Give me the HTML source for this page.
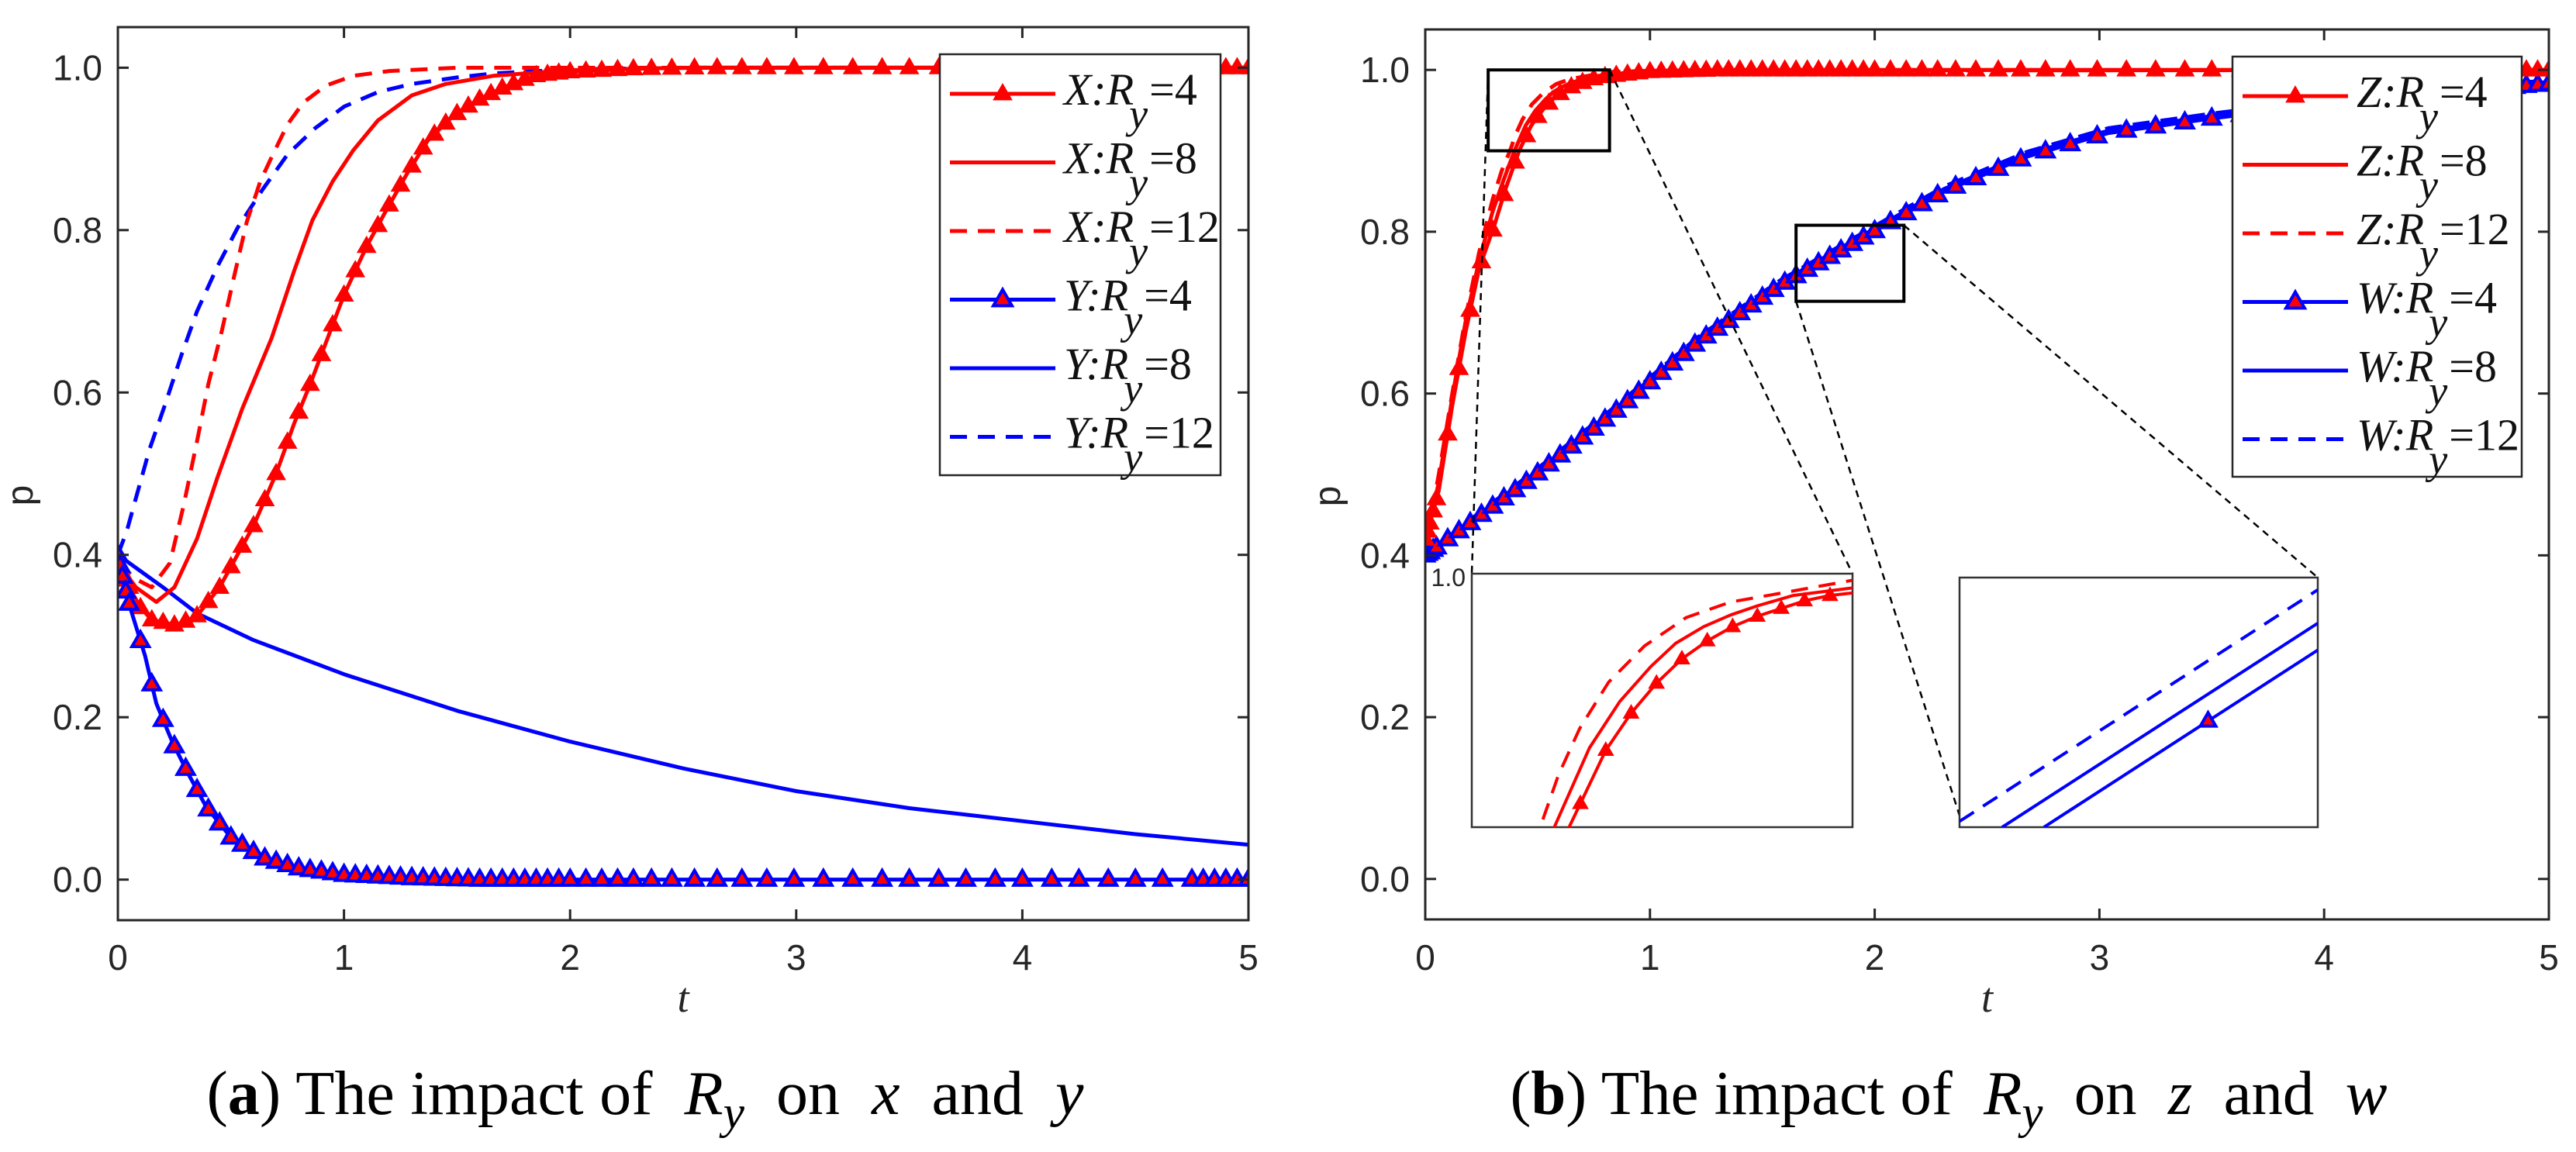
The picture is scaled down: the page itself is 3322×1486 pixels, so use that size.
<!DOCTYPE html>
<html><head><meta charset="utf-8"><style>
html,body{margin:0;padding:0;background:#fff;width:3322px;height:1486px;overflow:hidden;}
svg{display:block;}
.pre{white-space:pre;}
</style></head><body>
<svg id="fig" width="3322" height="1486" viewBox="0 0 3322 1486" xmlns="http://www.w3.org/2000/svg">
<defs>
<clipPath id="clipL"><rect x="152" y="35" width="1458" height="1152"/></clipPath>
<clipPath id="clipR"><rect x="1838" y="38" width="1449" height="1148"/></clipPath>
<clipPath id="clipI1"><rect x="1898" y="740" width="491" height="327"/></clipPath>
<clipPath id="clipI2"><rect x="2527" y="745" width="462" height="322"/></clipPath>
</defs>
<rect x="0" y="0" width="3322" height="1486" fill="#fff"/>
<g id="root"></g>
</svg>
<script>
// ---------- Panel (a) data ----------
const tX4 = [0,.05,.1,.15,.26,.35,.45,.6,.7,.78,.85,1.0,1.1,1.19,1.28,1.37,1.48,1.59,1.7,1.84,2.0,2.3,2.6,5];
const yX4 = [.39,.36,.335,.32,.313,.325,.36,.436,.5,.562,.61,.72,.78,.826,.87,.91,.94,.96,.975,.99,.995,.999,1,1];
const tX8 = [0,.08,.17,.25,.35,.44,.55,.68,.78,.86,.95,1.04,1.15,1.3,1.45,1.66,2.0,2.5,5];
const yX8 = [.39,.36,.342,.36,.42,.495,.58,.667,.75,.812,.86,.898,.935,.966,.98,.99,.997,1,1];
const tX12 = [0,.08,.15,.23,.29,.35,.4,.46,.52,.57,.63,.68,.75,.82,.92,1.04,1.2,1.5,5];
const yX12 = [.39,.37,.36,.39,.46,.54,.61,.676,.75,.81,.86,.89,.93,.957,.978,.99,.996,1,1];
const tY4 = [0,.03,.06,.12,.17,.24,.31,.39,.5,.64,.8,1.0,1.3,1.6,5];
const yY4 = [.4,.36,.33,.276,.217,.17,.131,.09,.052,.027,.014,.006,.002,0,0];
const tY8 = [0,.1,.2,.35,.6,1,1.5,2,2.5,3,3.5,4,4.5,5];
const yY8 = [.4,.38,.36,.328,.295,.253,.208,.17,.137,.109,.088,.072,.056,.043];
const tY12 = [0,.04,.08,.14,.21,.28,.35,.44,.53,.64,.75,.87,1.0,1.15,1.3,1.5,1.66,2.0,2.5,5];
const yY12 = [.4,.43,.47,.53,.586,.645,.7,.755,.803,.85,.893,.925,.952,.97,.98,.988,.993,.998,1,1];
const markerT = [0,.01,.02,.035,.05,.1,.15,.2,.25,.3,.35,.4,.45,.5,.55,.6,.65,.7,.75,.8,.85,.9,.95,1.0,1.05,1.1,1.15,1.2,1.25,1.3,1.35,1.4,1.45,1.5,1.55,1.6,1.65,1.7,1.75,1.8,1.85,1.9,1.95,2.0,2.07,2.14,2.21,2.28,2.36,2.45,2.55,2.65,2.76,2.87,2.99,3.12,3.25,3.38,3.5,3.63,3.75,3.88,4.0,4.13,4.25,4.38,4.5,4.62,4.75,4.8,4.85,4.9,4.95,5];
// ---------- Panel (b) data ----------
const tZ4 = [0,.02,.04,.06,.12,.18,.24,.31,.36,.418,.47,.506,.542,.578,.614,.65,.685,.719,.752,.788,.82,1.0,1.3,5];
const yZ4 = [.42,.44,.46,.48,.585,.677,.755,.81,.855,.9,.9303,.945,.9568,.9664,.9735,.9791,.9832,.9863,.9893,.9914,.9924,.998,1,1];
const tZ8 = [0,.02,.04,.06,.12,.18,.24,.3,.35,.397,.447,.49,.534,.569,.609,.647,.685,.736,.82,1.0,1.3,5];
const yZ8 = [.42,.445,.465,.49,.595,.69,.765,.825,.865,.9,.9313,.9496,.9634,.9725,.9791,.9837,.9873,.9914,.9944,.999,1,1];
const tZ12 = [0,.02,.04,.06,.12,.18,.24,.3,.34,.377,.403,.433,.474,.525,.584,.647,.71,.82,1.0,5];
const yZ12 = [.42,.45,.47,.5,.6,.695,.775,.84,.875,.9,.9206,.9389,.9572,.9715,.9827,.9888,.9919,.9974,.999,1];
const tW = [0,.18,.48,.85,1.21,1.58,1.95,2.31,2.68,3.04,3.5,4.0,4.5,5];
const yW4 = [.4,.436,.497,.579,.663,.734,.793,.85,.893,.922,.94,.957,.97,.983];
const yW8 = [.4,.438,.5,.582,.666,.737,.796,.853,.896,.925,.943,.96,.973,.985];
const yW12 = [.4,.44,.503,.585,.669,.74,.799,.856,.899,.928,.946,.963,.976,.987];
const zoom1 = [.28,.82,.90,1.0];
const zoom2 = [1.65,2.13,.714,.808];
const inset1MarkerT = [.434,.47,.506,.542,.578,.614,.65,.685,.719,.752,.788];
const insetW4t = [1.763,2.13], insetW4y = [.714,.7807];
const insetW8t = [1.707,2.13], insetW8y = [.714,.7908];
const insetW12t = [1.65,2.13], insetW12y = [.7162,.8034];
const inset2MarkerT = [1.983];
const xTicks = [0,1,2,3,4,5];
const yTicks = [0,.2,.4,.6,.8,1.0];
const yTickLabels = ['0.0','0.2','0.4','0.6','0.8','1.0'];

const SANS="'Liberation Sans', sans-serif";
const SERIF="'Liberation Serif', serif";
const NS='http://www.w3.org/2000/svg';
const root=document.getElementById('root');
function el(tag,attrs,parent){const e=document.createElementNS(NS,tag);for(const k in attrs)e.setAttribute(k,attrs[k]);(parent||root).appendChild(e);return e;}
function mkAxis(x0,x1,yT,yB,tmin,tmax,vmin,vmax){
  return {x:t=>x0+(t-tmin)/(tmax-tmin)*(x1-x0), y:v=>yB-(v-vmin)/(vmax-vmin)*(yB-yT), x0,x1,yT,yB};
}
function interp(ts,ys,t){
  if(t<=ts[0])return ys[0];
  for(let i=1;i<ts.length;i++){if(t<=ts[i]){const f=(t-ts[i-1])/(ts[i]-ts[i-1]);return ys[i-1]+f*(ys[i]-ys[i-1]);}}
  return ys[ys.length-1];
}
function line(ax,ts,ys,color,dash,g,name,w){
  let d='';ts.forEach((t,i)=>{d+=(i?'L':'M')+ax.x(t).toFixed(1)+','+ax.y(ys[i]).toFixed(1);});
  const p=el('path',{d,fill:'none',stroke:color,'stroke-width':w||5,'stroke-linejoin':'round'},g);
  if(dash)p.setAttribute('stroke-dasharray','22 14');
  
  
  return p;
}
function tri(cx,cy,s,fill,stroke,g,name){
  const h=s*0.87;
  const p=el('polygon',{points:`${cx},${cy-h*0.62} ${cx-s/2},${cy+h*0.38} ${cx+s/2},${cy+h*0.38}`,fill,stroke:stroke||fill,'stroke-width':stroke?4:1,'stroke-linejoin':'miter'},g);
  
  
}
function markers(ax,ts,ys,mt,fill,stroke,g,name,s){
  mt.forEach(t=>tri(ax.x(t),ax.y(interp(ts,ys,t)),s||24,fill,stroke,g,name));
}
function frame(ax,prefix){
  const g=el('g',{});
  
  
  xTicks.forEach(t=>{
    const x=ax.x(t);
    el('line',{x1:x,y1:ax.yB,x2:x,y2:ax.yB-14,stroke:'#262626','stroke-width':3},g);
    el('line',{x1:x,y1:ax.yT,x2:x,y2:ax.yT+14,stroke:'#262626','stroke-width':3},g);
    const tx=el('text',{x:x,y:1251,'text-anchor':'middle','font-family':SANS,'font-size':46,fill:'#262626'},g);
    tx.textContent=String(t);
    
    
  });
  yTicks.forEach((v,i)=>{
    const y=ax.y(v);
    el('line',{x1:ax.x0,y1:y,x2:ax.x0+14,y2:y,stroke:'#262626','stroke-width':3},g);
    el('line',{x1:ax.x1,y1:y,x2:ax.x1-14,y2:y,stroke:'#262626','stroke-width':3},g);
    const tx=el('text',{x:ax.x0-20,y:y+16,'text-anchor':'end','font-family':SANS,'font-size':46,fill:'#262626'},g);
    tx.textContent=yTickLabels[i];
    
    
  });
  const r=el('rect',{x:ax.x0,y:ax.yT,width:ax.x1-ax.x0,height:ax.yB-ax.yT,fill:'none',stroke:'#262626','stroke-width':3},g);
  
  
  const xl=el('text',{x:(ax.x0+ax.x1)/2,y:1305,'text-anchor':'middle','font-family':SERIF,'font-style':'italic','font-size':54,fill:'#262626'},g);
  xl.textContent='t';
  
  
  const yx=ax.x0-110, yy=(ax.yT+ax.yB)/2+28;
  const yl=el('text',{x:yx,y:yy,transform:`rotate(-90 ${yx} ${yy})`,'text-anchor':'middle','font-family':SANS,'font-size':48,fill:'#262626'},g);
  yl.textContent='p';
  
  
}
function legend(x0,y0,w,h,entries,prefix){
  const g=el('g',{});
  
  
  el('rect',{x:x0,y:y0,width:w,height:h,fill:'#fff',stroke:'#262626','stroke-width':2.5},g);
  entries.forEach((e,i)=>{
    const ly=y0+51+i*88.5;
    const eg=el('g',{},g);
    
    
    const l=el('line',{x1:x0+13,y1:ly,x2:x0+149,y2:ly,stroke:e.c,'stroke-width':5},eg);
    if(e.dash)l.setAttribute('stroke-dasharray','22 14');
    if(e.m)tri(x0+81,ly,24,e.mf,e.ms,eg,'legend-marker');
    const tx=el('text',{x:x0+160,y:ly+14,'font-family':SERIF,'font-size':58,fill:'#111'},eg);
    const a=el('tspan',{'font-style':'italic'},tx);a.textContent=e.s+':R';
    const b=el('tspan',{'font-style':'italic',dy:30,dx:-6,'font-size':54},tx);b.textContent='y';
    const c=el('tspan',{dy:-30,dx:2},tx);c.textContent='='+e.v;
  });
}
function caption(cx,letter,a,b){
  const tx=el('text',{x:cx,y:1437,'text-anchor':'middle','font-family':SERIF,'font-size':80,fill:'#000',textLength:1131,lengthAdjust:'spacingAndGlyphs',class:'pre'});
  
  
  const p1=el('tspan',{},tx);p1.textContent='(';
  const p2=el('tspan',{'font-weight':'bold'},tx);p2.textContent=letter;
  const p3=el('tspan',{},tx);p3.textContent=') The impact of  ';
  const p4=el('tspan',{'font-style':'italic'},tx);p4.textContent='R';
  const p5=el('tspan',{'font-style':'italic',dy:18,'font-size':60},tx);p5.textContent='y';
  const p6=el('tspan',{dy:-18},tx);p6.textContent='  on  ';
  const p7=el('tspan',{'font-style':'italic'},tx);p7.textContent=a;
  const p8=el('tspan',{},tx);p8.textContent='  and  ';
  const p9=el('tspan',{'font-style':'italic'},tx);p9.textContent=b;
}

// ---------- Panel (a) ----------
const axL=mkAxis(152,1610,35,1187,0,5,-0.05,1.05);
const gL=el('g',{'clip-path':'url(#clipL)'});


line(axL,tY8,yY8,'#0000ff',false,gL,'series-y-ry8');
line(axL,tY12,yY12,'#0000ff',true,gL,'series-y-ry12');
line(axL,tX12,yX12,'#ff0000',true,gL,'series-x-ry12');
line(axL,tX8,yX8,'#ff0000',false,gL,'series-x-ry8');
line(axL,tX4,yX4,'#ff0000',false,gL,'series-x-ry4');
markers(axL,tX4,yX4,markerT,'#ff0000',null,gL,'marker-x-ry4');
line(axL,tY4,yY4,'#0000ff',false,gL,'series-y-ry4');
markers(axL,tY4,yY4,markerT,'#ff0000','#0000ff',gL,'marker-y-ry4',22);
frame(axL,'panel-a');
legend(1212,70,362,543,[
 {s:'X',v:'4',c:'#ff0000',m:1,mf:'#ff0000'},
 {s:'X',v:'8',c:'#ff0000'},
 {s:'X',v:'12',c:'#ff0000',dash:1},
 {s:'Y',v:'4',c:'#0000ff',m:1,mf:'#ff0000',ms:'#0000ff'},
 {s:'Y',v:'8',c:'#0000ff'},
 {s:'Y',v:'12',c:'#0000ff',dash:1}],'panel-a');
caption(832,'a','x','y');

// ---------- Panel (b) ----------
const axR=mkAxis(1838,3287,38,1186,0,5,-0.05,1.05);
const gR=el('g',{'clip-path':'url(#clipR)'});


line(axR,tW,yW12,'#0000ff',true,gR,'series-w-ry12');
line(axR,tW,yW8,'#0000ff',false,gR,'series-w-ry8');
line(axR,tW,yW4,'#0000ff',false,gR,'series-w-ry4');
markers(axR,tW,yW4,markerT,'#ff0000','#0000ff',gR,'marker-w-ry4',22);
line(axR,tZ12,yZ12,'#ff0000',true,gR,'series-z-ry12');
line(axR,tZ8,yZ8,'#ff0000',false,gR,'series-z-ry8');
line(axR,tZ4,yZ4,'#ff0000',false,gR,'series-z-ry4');
markers(axR,tZ4,yZ4,markerT,'#ff0000',null,gR,'marker-z-ry4');
frame(axR,'panel-b');

const in1={x0:1898,x1:2389,yT:740,yB:1067};
const in2={x0:2527,x1:2989,yT:745,yB:1067};
function zoomRect(z,name){
  const x0=axR.x(z[0]),x1=axR.x(z[1]),yT=axR.y(z[3]),yB=axR.y(z[2]);
  const r=el('rect',{x:x0,y:yT,width:x1-x0,height:yB-yT,fill:'none',stroke:'#000','stroke-width':4});
  
  
  return {x0,x1,yT,yB};
}
const zr1=zoomRect(zoom1,'zoom-box-1');
const zr2=zoomRect(zoom2,'zoom-box-2');
function conn(x1,y1,x2,y2){
  const l=el('line',{x1,y1,x2,y2,stroke:'#000','stroke-width':2.5,'stroke-dasharray':'9 7'});
  
  
}
conn(zr1.x0,zr1.yT,in1.x0,in1.yT);
conn(zr1.x1,zr1.yT,in1.x1,in1.yT);
conn(zr2.x0,zr2.yB,in2.x0,in2.yB-15);
conn(zr2.x1,zr2.yT,in2.x1,in2.yT);

const ax1=mkAxis(in1.x0,in1.x1,in1.yT,in1.yB,zoom1[0],zoom1[1],zoom1[2],zoom1[3]);
const r1=el('rect',{x:in1.x0,y:in1.yT,width:in1.x1-in1.x0,height:in1.yB-in1.yT,fill:'#fff',stroke:'#333','stroke-width':2.5});


const gi1=el('g',{'clip-path':'url(#clipI1)'});


line(ax1,tZ12,yZ12,'#ff0000',true,gi1,'inset-z-ry12',4);
line(ax1,tZ8,yZ8,'#ff0000',false,gi1,'inset-z-ry8',4);
line(ax1,tZ4,yZ4,'#ff0000',false,gi1,'inset-z-ry4',4);
markers(ax1,tZ4,yZ4,inset1MarkerT,'#ff0000',null,gi1,'inset-marker-z-ry4',20);
const l10=el('text',{x:1890,y:756,'text-anchor':'end','font-family':SANS,'font-size':32,fill:'#262626'});
l10.textContent='1.0';



const ax2=mkAxis(in2.x0,in2.x1,in2.yT,in2.yB,zoom2[0],zoom2[1],zoom2[2],zoom2[3]);
const r2=el('rect',{x:in2.x0,y:in2.yT,width:in2.x1-in2.x0,height:in2.yB-in2.yT,fill:'#fff',stroke:'#333','stroke-width':2.5});


const gi2=el('g',{'clip-path':'url(#clipI2)'});


line(ax2,insetW12t,insetW12y,'#0000ff',true,gi2,'inset-w-ry12',4);
line(ax2,insetW8t,insetW8y,'#0000ff',false,gi2,'inset-w-ry8',4);
line(ax2,insetW4t,insetW4y,'#0000ff',false,gi2,'inset-w-ry4',4);
markers(ax2,insetW4t,insetW4y,inset2MarkerT,'#ff0000','#0000ff',gi2,'inset-marker-w-ry4',20);

legend(2879,73,373,542,[
 {s:'Z',v:'4',c:'#ff0000',m:1,mf:'#ff0000'},
 {s:'Z',v:'8',c:'#ff0000'},
 {s:'Z',v:'12',c:'#ff0000',dash:1},
 {s:'W',v:'4',c:'#0000ff',m:1,mf:'#ff0000',ms:'#0000ff'},
 {s:'W',v:'8',c:'#0000ff'},
 {s:'W',v:'12',c:'#0000ff',dash:1}],'panel-b');
caption(2513,'b','z','w');
</script>
</body></html>
